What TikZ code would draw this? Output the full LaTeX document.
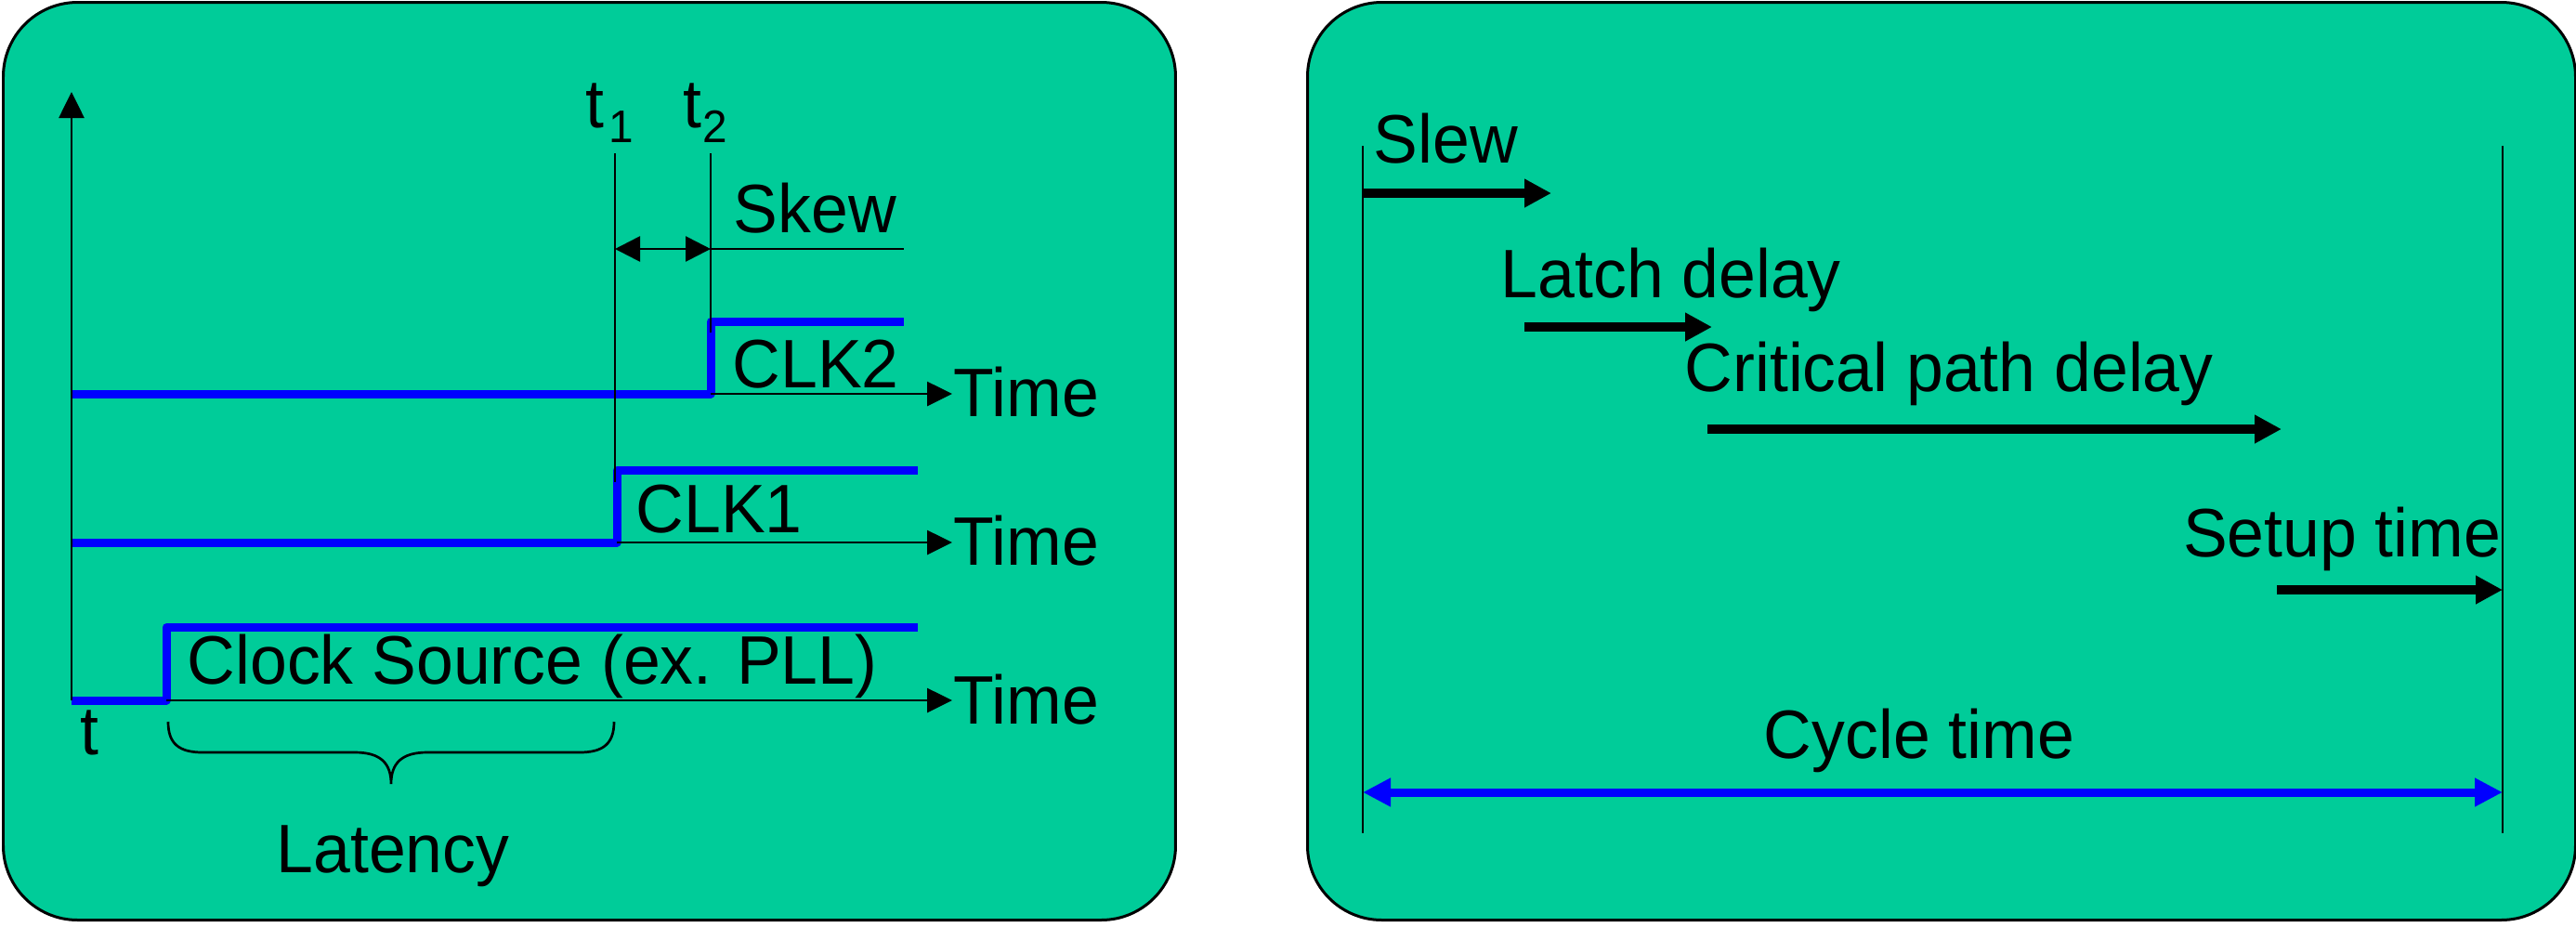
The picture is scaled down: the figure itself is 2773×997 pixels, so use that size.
\documentclass[tikz,border=0pt]{standalone}
\usepackage{fontspec}
\setmainfont{Liberation Sans}[FakeStretch=0.97]
\usetikzlibrary{arrows.meta}
\definecolor{panel}{RGB}{0,204,153}
\definecolor{sigblue}{RGB}{0,0,255}
\begin{document}
\begin{tikzpicture}[x=0.1mm,y=-0.1mm,
  panelbox/.style={draw=black, line width=0.3mm, fill=panel, rounded corners=8mm},
  axisline/.style={line width=0.27mm},
  sigline/.style={draw=sigblue, line width=0.9mm, line join=round},
  timearrow/.style={line width=0.27mm, -{Triangle[length=2.7mm,width=2.6mm]}},
  skewarrow/.style={line width=0.27mm, {Triangle[length=2.7mm,width=2.7mm]}-{Triangle[length=2.7mm,width=2.7mm]}},
  boldarrow/.style={line width=1.0mm, -{Triangle[length=2.9mm,width=2.9mm]}},
  cyclearrow/.style={draw=sigblue, line width=0.9mm, {Triangle[length=3mm,width=2.9mm]}-{Triangle[length=3mm,width=2.9mm]}},
  lbl/.style={inner sep=0pt, anchor=base west, font=\fontsize{21}{25}\selectfont},
  sublbl/.style={inner sep=0pt, anchor=base west, font=\fontsize{14}{16}\selectfont},
]
\useasboundingbox (0,0) rectangle (2773,997);

% panels
\node[panelbox, minimum width=126.2mm, minimum height=98.8mm, anchor=north west, inner sep=0pt] (leftpanel) at (2,1) {};
\node[panelbox, minimum width=136.5mm, minimum height=98.8mm, anchor=north west, inner sep=0pt] (rightpanel) at (1406,1) {};

% ---------- left panel ----------
\coordinate (axisbot) at (77,754);
\coordinate (axistop) at (77,99);
\coordinate (c2a) at (765,424);
\coordinate (c2b) at (765,346);
\coordinate (c2c) at (973,346);
\coordinate (c2s) at (77,424);
\coordinate (c1a) at (664,584);
\coordinate (c1b) at (664,506);
\coordinate (c1c) at (988,506);
\coordinate (c1s) at (77,584);
\coordinate (c0a) at (179,754);
\coordinate (c0b) at (179,675.5);
\coordinate (c0c) at (988,675.5);
\coordinate (c2end) at (1025,424);
\coordinate (c1end) at (1025,584);
\coordinate (c0end) at (1025,754);
\coordinate (t1top) at (662,165);
\coordinate (t1bot) at (662,519);
\coordinate (t2top) at (765,165);
\coordinate (t2bot) at (765,358);
\coordinate (skewl) at (662,268);
\coordinate (skewr) at (765,268);
\coordinate (skewend) at (973,268);

% blue signals
\draw[sigline] (c2s) -- (c2a) -- (c2b) -- (c2c);
\draw[sigline] (c1s) -- (c1a) -- (c1b) -- (c1c);
\draw[sigline] (axisbot) -- (c0a) -- (c0b) -- (c0c);

% axes and time arrows
\draw[axisline, -{Triangle[length=2.8mm,width=2.7mm]}] (axisbot) -- (axistop);
\draw[timearrow] (c2a) -- (c2end);
\draw[timearrow] (c1a) -- (c1end);
\draw[timearrow] (c0a) -- (c0end);

% t1, t2 markers and skew
\draw[axisline] (t1top) -- (t1bot);
\draw[axisline] (t2top) -- (t2bot);
\draw[skewarrow] (skewl) -- (skewr);
\draw[axisline] (skewr) -- (skewend);

% latency brace
\coordinate (brl) at (181,777);
\coordinate (brr) at (661,777);
\coordinate (brtip) at (421,844);
\draw[axisline] (brl) .. controls (181,800) and (192,810) .. (218,810) -- (382,810)
  .. controls (410,810) and (421,822) .. (brtip)
  .. controls (421,822) and (432,810) .. (460,810) -- (624,810)
  .. controls (650,810) and (661,800) .. (brr);

% labels
\node[lbl] (t1lbl) at (630,137) {t};
\node[sublbl] (t1sub) at (655,153) {1};
\node[lbl] (t2lbl) at (735,137) {t};
\node[sublbl] (t2sub) at (756,153) {2};
\node[lbl] (skewlbl) at (789,250) {Skew};
\node[lbl] (clk2lbl) at (788,417) {CLK2};
\node[lbl] (clk1lbl) at (684,573.5) {CLK1};
\node[lbl] (clklbl) at (201,736) {Clock Source (ex. PLL)};
\node[lbl] (time2) at (1026,448) {Time};
\node[lbl] (time1) at (1026,608.5) {Time};
\node[lbl] (time0) at (1026,779) {Time};
\node[lbl] (tlbl) at (86,812) {t};
\node[lbl, anchor=base] (latlbl) at (423,939) {Latency};

% ---------- right panel ----------
\coordinate (rl1) at (1467,157);
\coordinate (rl2) at (1467,897);
\coordinate (rr1) at (2694,157);
\coordinate (rr2) at (2694,897);
\draw[axisline] (rl1) -- (rl2);
\draw[axisline] (rr1) -- (rr2);

\coordinate (slewa) at (1467,208);
\coordinate (slewb) at (1670,208);
\coordinate (latcha) at (1641,352);
\coordinate (latchb) at (1843,352);
\coordinate (crita) at (1838,462);
\coordinate (critb) at (2456,462);
\coordinate (setupa) at (2451,635);
\coordinate (setupb) at (2694,635);
\coordinate (cyca) at (1467,853);
\coordinate (cycb) at (2694,853);

\draw[boldarrow] (slewa) -- (slewb);
\draw[boldarrow] (latcha) -- (latchb);
\draw[boldarrow] (crita) -- (critb);
\draw[boldarrow] (setupa) -- (setupb);
\draw[cyclearrow] (cyca) -- (cycb);

\node[lbl] (slewlbl) at (1478,175) {Slew};
\node[lbl] (latchlbl) at (1615,320) {Latch delay};
\node[lbl] (critlbl) at (1813,421.7) {Critical path delay};
\node[lbl, anchor=base east] (setuplbl) at (2693,599) {Setup time};
\node[lbl, anchor=base] (cyclbl) at (2066,816) {Cycle time};
\end{tikzpicture}
\end{document}
